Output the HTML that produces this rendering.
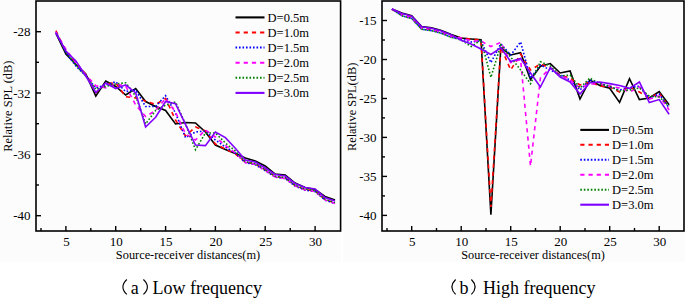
<!DOCTYPE html>
<html><head><meta charset="utf-8"><style>
html,body{margin:0;padding:0;background:#fff;}
body{width:685px;height:298px;overflow:hidden;}
svg{display:block;}
.t{font-family:"Liberation Serif",serif;font-size:12px;fill:#000;}
.n{font-size:13px;}
.l{font-size:12.5px;}
.y{font-size:12.4px;}
.p{font-size:16px;}
.c{font-family:"Liberation Serif",serif;font-size:18px;fill:#000;}
</style></head><body>
<svg width="685" height="298" viewBox="0 0 685 298">
<rect x="0" y="0" width="341" height="262" fill="#fcfcfc"/><rect x="343" y="0" width="342" height="262" fill="#fcfcfc"/>
<polyline points="55.9,33.5 65.9,54.0 75.9,64.5 85.8,74.0 95.8,96.0 105.8,81.0 115.7,86.5 125.7,95.0 135.7,88.5 145.6,101.5 155.6,106.5 165.6,110.5 175.5,124.0 185.5,122.5 195.5,123.0 205.4,132.0 215.4,145.0 225.4,149.5 235.3,153.5 245.3,158.0 255.3,161.0 265.2,166.0 275.2,174.0 285.2,175.0 295.1,183.0 305.1,187.5 315.1,189.5 325.0,196.5 335.0,200.0" fill="none" stroke="#000000" stroke-width="1.60" stroke-linejoin="miter"/>
<polyline points="55.9,30.6 65.9,52.0 75.9,62.5 85.8,74.5 95.8,92.5 105.8,84.0 115.7,82.8 125.7,96.8 135.7,98.0 145.6,101.0 155.6,104.5 165.6,98.5 175.5,120.0 185.5,136.0 195.5,127.0 205.4,131.0 215.4,144.0 225.4,149.0 235.3,154.0 245.3,162.0 255.3,164.0 265.2,170.0 275.2,176.5 285.2,178.0 295.1,185.5 305.1,189.5 315.1,191.0 325.0,199.5 335.0,203.0" fill="none" stroke="#ff0000" stroke-width="1.60" stroke-dasharray="4.2 4" stroke-linejoin="miter"/>
<polyline points="55.9,32.0 65.9,52.5 75.9,66.0 85.8,76.0 95.8,88.0 105.8,85.0 115.7,81.8 125.7,91.5 135.7,90.0 145.6,106.5 155.6,106.5 165.6,95.7 175.5,113.0 185.5,137.6 195.5,132.0 205.4,131.0 215.4,140.0 225.4,147.0 235.3,153.0 245.3,162.6 255.3,164.6 265.2,170.6 275.2,177.1 285.2,178.6 295.1,186.1 305.1,190.1 315.1,191.6 325.0,200.1 335.0,203.6" fill="none" stroke="#0000ff" stroke-width="1.60" stroke-dasharray="1.6 1.9" stroke-linejoin="miter"/>
<polyline points="55.9,32.0 65.9,49.5 75.9,63.0 85.8,75.0 95.8,85.8 105.8,87.8 115.7,83.8 125.7,86.1 135.7,105.0 145.6,116.5 155.6,110.5 165.6,98.4 175.5,112.0 185.5,134.0 195.5,140.0 205.4,130.0 215.4,137.0 225.4,145.5 235.3,153.0 245.3,162.4 255.3,164.4 265.2,170.4 275.2,176.9 285.2,178.4 295.1,185.9 305.1,189.9 315.1,191.4 325.0,199.9 335.0,203.4" fill="none" stroke="#ff00ff" stroke-width="1.60" stroke-dasharray="4.2 4" stroke-linejoin="miter"/>
<polyline points="55.9,32.0 65.9,52.0 75.9,65.0 85.8,76.0 95.8,89.2 105.8,86.5 115.7,84.0 125.7,82.8 135.7,96.0 145.6,124.0 155.6,110.5 165.6,105.1 175.5,102.0 185.5,124.0 195.5,149.7 205.4,133.0 215.4,133.0 225.4,143.0 235.3,151.0 245.3,161.6 255.3,163.6 265.2,169.6 275.2,176.1 285.2,177.6 295.1,185.1 305.1,189.1 315.1,190.6 325.0,199.1 335.0,202.6" fill="none" stroke="#008000" stroke-width="1.60" stroke-dasharray="1.6 1.9" stroke-dashoffset="1.75" stroke-linejoin="miter"/>
<polyline points="55.9,33.0 65.9,51.0 75.9,61.0 85.8,76.0 95.8,92.5 105.8,83.0 115.7,88.5 125.7,84.8 135.7,93.0 145.6,127.0 155.6,117.2 165.6,101.5 175.5,103.6 185.5,124.3 195.5,145.0 205.4,145.6 215.4,132.0 225.4,137.6 235.3,148.3 245.3,160.0 255.3,162.0 265.2,168.0 275.2,174.5 285.2,176.0 295.1,183.5 305.1,187.5 315.1,189.0 325.0,197.5 335.0,201.0" fill="none" stroke="#8000ff" stroke-width="1.60" stroke-linejoin="miter"/>
<rect x="36.0" y="1.0" width="304.6" height="230.0" fill="none" stroke="#000" stroke-width="1.6"/>
<line x1="65.9" y1="231.0" x2="65.9" y2="226.0" stroke="#000" stroke-width="1.4"/>
<line x1="115.7" y1="231.0" x2="115.7" y2="226.0" stroke="#000" stroke-width="1.4"/>
<line x1="165.6" y1="231.0" x2="165.6" y2="226.0" stroke="#000" stroke-width="1.4"/>
<line x1="215.4" y1="231.0" x2="215.4" y2="226.0" stroke="#000" stroke-width="1.4"/>
<line x1="265.2" y1="231.0" x2="265.2" y2="226.0" stroke="#000" stroke-width="1.4"/>
<line x1="315.1" y1="231.0" x2="315.1" y2="226.0" stroke="#000" stroke-width="1.4"/>
<line x1="41.0" y1="231.0" x2="41.0" y2="228.0" stroke="#000" stroke-width="1.4"/>
<line x1="90.8" y1="231.0" x2="90.8" y2="228.0" stroke="#000" stroke-width="1.4"/>
<line x1="140.7" y1="231.0" x2="140.7" y2="228.0" stroke="#000" stroke-width="1.4"/>
<line x1="190.5" y1="231.0" x2="190.5" y2="228.0" stroke="#000" stroke-width="1.4"/>
<line x1="240.3" y1="231.0" x2="240.3" y2="228.0" stroke="#000" stroke-width="1.4"/>
<line x1="290.2" y1="231.0" x2="290.2" y2="228.0" stroke="#000" stroke-width="1.4"/>
<line x1="36.0" y1="31.7" x2="41.0" y2="31.7" stroke="#000" stroke-width="1.4"/>
<line x1="36.0" y1="93.0" x2="41.0" y2="93.0" stroke="#000" stroke-width="1.4"/>
<line x1="36.0" y1="154.3" x2="41.0" y2="154.3" stroke="#000" stroke-width="1.4"/>
<line x1="36.0" y1="215.7" x2="41.0" y2="215.7" stroke="#000" stroke-width="1.4"/>
<line x1="36.0" y1="62.3" x2="39.0" y2="62.3" stroke="#000" stroke-width="1.4"/>
<line x1="36.0" y1="123.7" x2="39.0" y2="123.7" stroke="#000" stroke-width="1.4"/>
<line x1="36.0" y1="185.0" x2="39.0" y2="185.0" stroke="#000" stroke-width="1.4"/>
<text x="30.5" y="36.2" text-anchor="end" class="t n">-28</text>
<text x="30.5" y="97.5" text-anchor="end" class="t n">-32</text>
<text x="30.5" y="158.8" text-anchor="end" class="t n">-36</text>
<text x="30.5" y="220.2" text-anchor="end" class="t n">-40</text>
<text x="66.4" y="245.8" text-anchor="middle" class="t n">5</text>
<text x="116.2" y="245.8" text-anchor="middle" class="t n">10</text>
<text x="166.1" y="245.8" text-anchor="middle" class="t n">15</text>
<text x="215.9" y="245.8" text-anchor="middle" class="t n">20</text>
<text x="265.7" y="245.8" text-anchor="middle" class="t n">25</text>
<text x="315.6" y="245.8" text-anchor="middle" class="t n">30</text>
<line x1="235.5" y1="17.4" x2="264.5" y2="17.4" stroke="#000000" stroke-width="2.1"/>
<text x="267.6" y="21.9" class="t l">D=0.5m</text>
<line x1="235.5" y1="32.5" x2="264.5" y2="32.5" stroke="#ff0000" stroke-width="2.0" stroke-dasharray="4.2 4"/>
<text x="267.6" y="37.0" class="t l">D=1.0m</text>
<line x1="235.5" y1="47.6" x2="264.5" y2="47.6" stroke="#0000ff" stroke-width="2.0" stroke-dasharray="1.6 1.9"/>
<text x="267.6" y="52.1" class="t l">D=1.5m</text>
<line x1="235.5" y1="62.7" x2="264.5" y2="62.7" stroke="#ff00ff" stroke-width="2.0" stroke-dasharray="4.2 4"/>
<text x="267.6" y="67.2" class="t l">D=2.0m</text>
<line x1="235.5" y1="77.8" x2="264.5" y2="77.8" stroke="#008000" stroke-width="2.0" stroke-dasharray="1.6 1.9"/>
<text x="267.6" y="82.3" class="t l">D=2.5m</text>
<line x1="235.5" y1="92.9" x2="264.5" y2="92.9" stroke="#8000ff" stroke-width="2.1"/>
<text x="267.6" y="97.4" class="t l">D=3.0m</text>
<polyline points="391.9,9.0 401.8,13.1 411.7,15.8 421.6,26.5 431.5,27.9 441.4,30.6 451.3,34.6 461.2,38.0 471.1,39.0 481.0,39.8 490.9,214.7 500.8,47.8 510.7,55.0 520.6,52.8 530.5,79.7 540.4,66.2 550.3,63.6 560.2,73.0 570.1,71.0 580.0,99.0 589.9,80.0 599.8,85.5 609.7,88.2 619.6,102.4 629.5,78.7 639.4,99.5 649.3,98.0 659.2,91.6 669.1,104.7" fill="none" stroke="#000000" stroke-width="1.60" stroke-linejoin="miter"/>
<polyline points="391.9,9.5 401.8,14.2 411.7,16.9 421.6,27.6 431.5,29.0 441.4,31.7 451.3,35.7 461.2,38.0 471.1,39.0 481.0,40.0 490.9,207.0 500.8,47.0 510.7,70.0 520.6,54.0 530.5,70.0 540.4,64.0 550.3,68.0 560.2,75.0 570.1,78.0 580.0,85.0 589.9,82.0 599.8,86.0 609.7,87.0 619.6,92.0 629.5,87.0 639.4,92.0 649.3,98.0 659.2,93.0 669.1,107.0" fill="none" stroke="#ff0000" stroke-width="1.60" stroke-dasharray="4.2 4" stroke-linejoin="miter"/>
<polyline points="391.9,9.0 401.8,15.8 411.7,18.5 421.6,29.2 431.5,30.6 441.4,33.3 451.3,37.3 461.2,39.0 471.1,42.0 481.0,41.0 490.9,62.6 500.8,43.8 510.7,55.0 520.6,42.0 530.5,78.3 540.4,65.0 550.3,70.0 560.2,75.0 570.1,80.0 580.0,90.0 589.9,80.0 599.8,83.0 609.7,87.0 619.6,90.0 629.5,88.0 639.4,86.0 649.3,98.0 659.2,94.0 669.1,108.0" fill="none" stroke="#0000ff" stroke-width="1.60" stroke-dasharray="1.6 1.9" stroke-linejoin="miter"/>
<polyline points="391.9,9.0 401.8,14.9 411.7,17.6 421.6,28.3 431.5,29.7 441.4,32.4 451.3,36.4 461.2,38.0 471.1,41.0 481.0,41.0 490.9,46.5 500.8,42.4 510.7,62.6 520.6,59.6 530.5,166.0 540.4,78.0 550.3,68.0 560.2,75.0 570.1,80.0 580.0,88.0 589.9,84.0 599.8,84.0 609.7,86.0 619.6,88.0 629.5,92.0 639.4,87.0 649.3,99.0 659.2,96.0 669.1,110.0" fill="none" stroke="#ff00ff" stroke-width="1.60" stroke-dasharray="4.2 4" stroke-linejoin="miter"/>
<polyline points="391.9,9.0 401.8,15.8 411.7,18.5 421.6,29.2 431.5,30.6 441.4,33.3 451.3,37.3 461.2,40.0 471.1,46.5 481.0,40.0 490.9,77.3 500.8,45.0 510.7,57.0 520.6,70.0 530.5,83.7 540.4,61.7 550.3,66.0 560.2,76.0 570.1,75.0 580.0,88.0 589.9,78.0 599.8,84.0 609.7,86.0 619.6,91.0 629.5,90.0 639.4,88.0 649.3,96.0 659.2,97.0 669.1,106.0" fill="none" stroke="#008000" stroke-width="1.60" stroke-dasharray="1.6 1.9" stroke-dashoffset="1.75" stroke-linejoin="miter"/>
<polyline points="391.9,9.0 401.8,13.4 411.7,16.1 421.6,26.8 431.5,28.2 441.4,30.9 451.3,34.9 461.2,40.3 471.1,44.0 481.0,49.0 490.9,54.5 500.8,47.8 510.7,61.5 520.6,58.5 530.5,73.0 540.4,87.0 550.3,67.6 560.2,77.0 570.1,82.0 580.0,94.0 589.9,82.8 599.8,82.0 609.7,83.6 619.6,85.5 629.5,88.3 639.4,82.0 649.3,102.6 659.2,99.6 669.1,114.2" fill="none" stroke="#8000ff" stroke-width="1.60" stroke-linejoin="miter"/>
<rect x="382.0" y="1.0" width="302.0" height="230.0" fill="none" stroke="#000" stroke-width="1.6"/>
<line x1="411.7" y1="231.0" x2="411.7" y2="226.0" stroke="#000" stroke-width="1.4"/>
<line x1="461.2" y1="231.0" x2="461.2" y2="226.0" stroke="#000" stroke-width="1.4"/>
<line x1="510.7" y1="231.0" x2="510.7" y2="226.0" stroke="#000" stroke-width="1.4"/>
<line x1="560.2" y1="231.0" x2="560.2" y2="226.0" stroke="#000" stroke-width="1.4"/>
<line x1="609.7" y1="231.0" x2="609.7" y2="226.0" stroke="#000" stroke-width="1.4"/>
<line x1="659.2" y1="231.0" x2="659.2" y2="226.0" stroke="#000" stroke-width="1.4"/>
<line x1="387.0" y1="231.0" x2="387.0" y2="228.0" stroke="#000" stroke-width="1.4"/>
<line x1="436.5" y1="231.0" x2="436.5" y2="228.0" stroke="#000" stroke-width="1.4"/>
<line x1="486.0" y1="231.0" x2="486.0" y2="228.0" stroke="#000" stroke-width="1.4"/>
<line x1="535.5" y1="231.0" x2="535.5" y2="228.0" stroke="#000" stroke-width="1.4"/>
<line x1="585.0" y1="231.0" x2="585.0" y2="228.0" stroke="#000" stroke-width="1.4"/>
<line x1="634.5" y1="231.0" x2="634.5" y2="228.0" stroke="#000" stroke-width="1.4"/>
<line x1="382.0" y1="20.5" x2="387.0" y2="20.5" stroke="#000" stroke-width="1.4"/>
<line x1="382.0" y1="59.5" x2="387.0" y2="59.5" stroke="#000" stroke-width="1.4"/>
<line x1="382.0" y1="98.5" x2="387.0" y2="98.5" stroke="#000" stroke-width="1.4"/>
<line x1="382.0" y1="137.4" x2="387.0" y2="137.4" stroke="#000" stroke-width="1.4"/>
<line x1="382.0" y1="176.4" x2="387.0" y2="176.4" stroke="#000" stroke-width="1.4"/>
<line x1="382.0" y1="215.4" x2="387.0" y2="215.4" stroke="#000" stroke-width="1.4"/>
<line x1="382.0" y1="40.0" x2="385.0" y2="40.0" stroke="#000" stroke-width="1.4"/>
<line x1="382.0" y1="79.0" x2="385.0" y2="79.0" stroke="#000" stroke-width="1.4"/>
<line x1="382.0" y1="117.9" x2="385.0" y2="117.9" stroke="#000" stroke-width="1.4"/>
<line x1="382.0" y1="156.9" x2="385.0" y2="156.9" stroke="#000" stroke-width="1.4"/>
<line x1="382.0" y1="195.9" x2="385.0" y2="195.9" stroke="#000" stroke-width="1.4"/>
<text x="376.5" y="25.0" text-anchor="end" class="t n">-15</text>
<text x="376.5" y="64.0" text-anchor="end" class="t n">-20</text>
<text x="376.5" y="103.0" text-anchor="end" class="t n">-25</text>
<text x="376.5" y="141.9" text-anchor="end" class="t n">-30</text>
<text x="376.5" y="180.9" text-anchor="end" class="t n">-35</text>
<text x="376.5" y="219.9" text-anchor="end" class="t n">-40</text>
<text x="412.2" y="245.8" text-anchor="middle" class="t n">5</text>
<text x="461.7" y="245.8" text-anchor="middle" class="t n">10</text>
<text x="511.2" y="245.8" text-anchor="middle" class="t n">15</text>
<text x="560.7" y="245.8" text-anchor="middle" class="t n">20</text>
<text x="610.2" y="245.8" text-anchor="middle" class="t n">25</text>
<text x="659.7" y="245.8" text-anchor="middle" class="t n">30</text>
<line x1="580.3" y1="129.9" x2="609.0" y2="129.9" stroke="#000000" stroke-width="2.1"/>
<text x="612.1" y="134.4" class="t l">D=0.5m</text>
<line x1="580.3" y1="144.8" x2="609.0" y2="144.8" stroke="#ff0000" stroke-width="2.0" stroke-dasharray="4.2 4"/>
<text x="612.1" y="149.3" class="t l">D=1.0m</text>
<line x1="580.3" y1="159.8" x2="609.0" y2="159.8" stroke="#0000ff" stroke-width="2.0" stroke-dasharray="1.6 1.9"/>
<text x="612.1" y="164.3" class="t l">D=1.5m</text>
<line x1="580.3" y1="174.8" x2="609.0" y2="174.8" stroke="#ff00ff" stroke-width="2.0" stroke-dasharray="4.2 4"/>
<text x="612.1" y="179.2" class="t l">D=2.0m</text>
<line x1="580.3" y1="189.7" x2="609.0" y2="189.7" stroke="#008000" stroke-width="2.0" stroke-dasharray="1.6 1.9"/>
<text x="612.1" y="194.2" class="t l">D=2.5m</text>
<line x1="580.3" y1="204.7" x2="609.0" y2="204.7" stroke="#8000ff" stroke-width="2.1"/>
<text x="612.1" y="209.2" class="t l">D=3.0m</text>
<text x="188" y="258.6" text-anchor="middle" class="t" textLength="144.3" lengthAdjust="spacingAndGlyphs">Source-receiver distances(m)</text>
<text x="533" y="258.6" text-anchor="middle" class="t" textLength="143.6" lengthAdjust="spacingAndGlyphs">Source-receiver distances(m)</text>
<text transform="translate(12.4,106.2) rotate(-90)" text-anchor="middle" class="t y">Relative SPL (dB)</text>
<text transform="translate(355.8,106.9) rotate(-90)" text-anchor="middle" class="t y">Relative SPL(dB)</text>
<path d="M126.8 279.5 Q119.0 286.95 126.8 294.4" fill="none" stroke="#000" stroke-width="1.15"/><text x="130.7" y="294" class="c">a</text><path d="M143.4 279.5 Q151.4 286.95 143.4 294.4" fill="none" stroke="#000" stroke-width="1.15"/><text x="152.5" y="294" class="c">Low frequency</text>
<path d="M455.6 279.5 Q448.2 286.95 455.6 294.4" fill="none" stroke="#000" stroke-width="1.15"/><text x="459.6" y="294" class="c">b</text><path d="M471.4 279.5 Q478.8 286.95 471.4 294.4" fill="none" stroke="#000" stroke-width="1.15"/><text x="483.0" y="294" class="c">High frequency</text>
</svg>
</body></html>
